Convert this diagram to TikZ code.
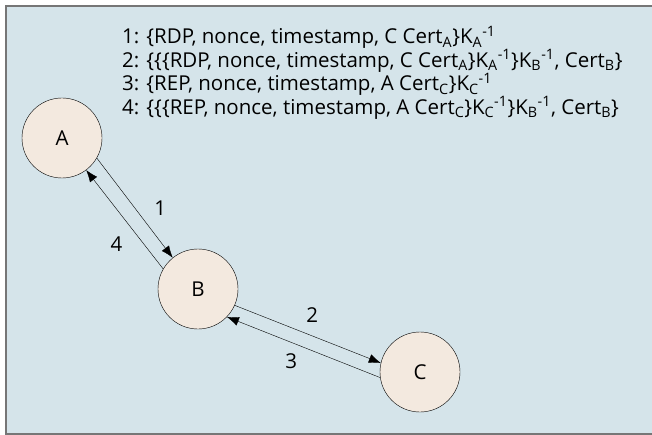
\documentclass[tikz,border=0pt]{standalone}
\usepackage{fontspec}
\setmainfont{Open Sans}
\usetikzlibrary{arrows.meta}
\definecolor{panel}{HTML}{D5E4EA}
\definecolor{peerfill}{HTML}{F3E9DF}
\definecolor{frame}{HTML}{767676}
\newcommand{\sub}[1]{\textsubscript{#1}}
\newcommand{\inv}{\textsuperscript{-1}}
\begin{document}
\begin{tikzpicture}[x=1pt, y=-1pt, every node/.style={font=\fontsize{20.5}{23}\selectfont}, peer/.style={draw, circle, fill=peerfill, minimum size=80pt, inner sep=0pt}, msg/.style={anchor=base west, inner sep=0pt}, link/.style={-{Latex[length=12pt, width=9pt]}}]
	\useasboundingbox (0,0) rectangle (652,435);
	\fill[panel] (6,6) rectangle (652,434);
	\draw[frame, line width=2pt] (652,6) -- (6,6) -- (6,434) -- (652,434);
	% message list
	\node[msg] (m1) at (122,44) {1: \{RDP, nonce, timestamp, C Cert\sub{A}\}K\sub{A}\inv};
	\node[msg] (m2) at (122,67.5) {2: \{\{\{RDP, nonce, timestamp, C Cert\sub{A}\}K\sub{A}\inv\}K\sub{B}\inv, Cert\sub{B}\}};
	\node[msg] (m3) at (122,91) {3: \{REP, nonce, timestamp, A Cert\sub{C}\}K\sub{C}\inv};
	\node[msg] (m4) at (122,114.5) {4: \{\{\{REP, nonce, timestamp, A Cert\sub{C}\}K\sub{C}\inv\}K\sub{B}\inv, Cert\sub{B}\}};
	% hosts
	\node[peer] (A) at (62,138) {A};
	\node[peer] (B) at (198,289) {B};
	\node[peer] (C) at (420,372) {C};
	\draw[link] (A.-30) -- (B.129) node[midway, right=16pt] {1};
	\draw[link] (B.150) -- (A.-53) node[pos=.25, left=18pt] {4};
	\draw[link] (B.-24) -- (C.167) node[pos=.53, above=10pt] {2};
	\draw[link] (C.-172) -- (B.-44) node[pos=.58, below=8pt] {3};
\end{tikzpicture}
\end{document}
